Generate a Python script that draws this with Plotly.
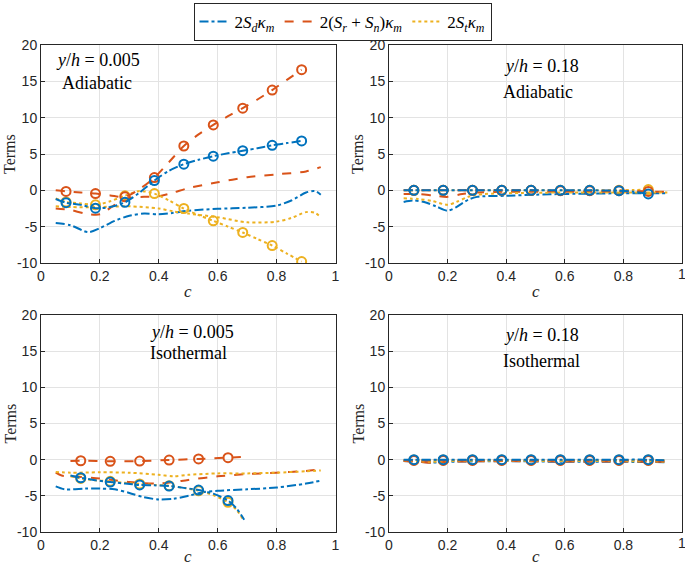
import plotly.graph_objects as go

# ---------------- data ----------------
C_MARK_A = [0.085, 0.185, 0.285, 0.385, 0.485, 0.585, 0.685, 0.785, 0.885]
C_MARK_B = [0.135, 0.235, 0.335, 0.435, 0.535, 0.635]

# Panel 1: y/h = 0.005, adiabatic
p1_sd_m_c = [0.05, 0.085, 0.135, 0.185, 0.235, 0.285, 0.335, 0.385, 0.435, 0.485, 0.535, 0.585, 0.635, 0.685, 0.735, 0.785, 0.835, 0.885]
p1_sd_m_v = [-1.2, -1.7, -2.0, -2.45, -2.3, -1.65, -0.3, 1.35, 2.7, 3.6, 4.2, 4.7, 5.1, 5.45, 5.8, 6.2, 6.5, 6.8]
p1_sr_m_c = p1_sd_m_c
p1_sr_m_v = [0.0, -0.15, -0.3, -0.45, -0.7, -0.9, 0.2, 1.75, 3.9, 6.1, 7.7, 9.0, 10.2, 11.3, 12.5, 13.8, 15.2, 16.6]
p1_st_m_c = p1_sd_m_c
p1_st_m_v = [-1.1, -1.6, -1.8, -2.0, -1.5, -0.75, -0.1, -0.45, -1.4, -2.5, -3.4, -4.2, -5.0, -5.8, -6.7, -7.6, -8.7, -9.8]
p1_sd_c = [0.05, 0.1, 0.16, 0.2, 0.25, 0.3, 0.35, 0.4, 0.45, 0.5, 0.6, 0.7, 0.8, 0.85, 0.9, 0.93, 0.95]
p1_sd_v = [-4.5, -4.8, -5.75, -5.2, -4.2, -3.5, -3.2, -3.3, -3.1, -2.8, -2.55, -2.4, -2.1, -1.4, -0.3, -0.1, -0.6]
p1_sr_c = [0.05, 0.1, 0.15, 0.2, 0.25, 0.3, 0.35, 0.4, 0.45, 0.5, 0.6, 0.7, 0.8, 0.9, 0.95]
p1_sr_v = [-2.5, -2.7, -3.2, -3.3, -2.0, -1.0, -0.9, -0.8, -0.3, 0.3, 1.1, 1.8, 2.2, 2.6, 3.2]
p1_st_c = [0.05, 0.1, 0.2, 0.3, 0.4, 0.45, 0.5, 0.6, 0.7, 0.8, 0.85, 0.9, 0.93, 0.95]
p1_st_v = [-2.2, -2.3, -2.3, -2.2, -2.5, -2.9, -3.2, -3.7, -4.4, -4.3, -3.8, -3.0, -3.1, -3.7]

# Panel 2: y/h = 0.18, adiabatic
p2_m_c = [0.05, 0.085, 0.185, 0.285, 0.385, 0.485, 0.585, 0.685, 0.785, 0.835, 0.885]
p2_sd_m_v = [0.0, 0.0, 0.0, 0.0, 0.0, 0.0, 0.0, 0.0, -0.05, -0.2, -0.5]
p2_sr_m_v = [0.0, 0.0, 0.0, 0.0, 0.0, 0.0, -0.05, -0.05, -0.05, -0.1, -0.15]
p2_st_m_v = [0.0, 0.0, 0.0, 0.0, 0.0, 0.0, 0.0, 0.0, 0.0, 0.05, 0.1]
p2_sd_c = [0.05, 0.08, 0.12, 0.16, 0.2, 0.23, 0.27, 0.3, 0.4, 0.5, 0.6, 0.7, 0.8, 0.9, 0.95]
p2_sd_v = [-1.6, -1.4, -1.6, -2.2, -2.8, -2.3, -1.3, -0.9, -0.75, -0.6, -0.5, -0.45, -0.4, -0.4, -0.4]
p2_sr_c = [0.05, 0.1, 0.15, 0.2, 0.25, 0.3, 0.4, 0.6, 0.8, 0.95]
p2_sr_v = [-0.5, -0.5, -0.7, -0.9, -0.5, -0.3, -0.2, -0.2, -0.2, -0.2]
p2_st_c = [0.05, 0.1, 0.15, 0.2, 0.23, 0.27, 0.3, 0.4, 0.6, 0.8, 0.95]
p2_st_v = [-1.1, -1.2, -1.5, -2.0, -1.6, -0.9, -0.6, -0.4, -0.3, -0.3, -0.3]

# Panel 3: y/h = 0.005, isothermal
p3_sr_m_c = [0.1, 0.135, 0.235, 0.335, 0.435, 0.535, 0.635, 0.7]
p3_sr_m_v = [-0.2, -0.15, -0.23, -0.2, -0.05, 0.1, 0.28, 0.4]
p3_sd_m_c = [0.1, 0.135, 0.185, 0.235, 0.285, 0.335, 0.385, 0.435, 0.485, 0.535, 0.585, 0.635, 0.665, 0.69]
p3_sd_m_v = [-2.2, -2.5, -2.85, -3.1, -3.3, -3.5, -3.55, -3.65, -3.9, -4.2, -4.7, -5.65, -6.8, -8.3]
p3_st_m_c = p3_sd_m_c
p3_st_m_v = [-2.3, -2.6, -2.85, -3.0, -3.2, -3.35, -3.5, -3.6, -3.9, -4.3, -4.9, -5.9, -7.0, -8.5]
p3_sd_c = [0.05, 0.08, 0.15, 0.2, 0.25, 0.3, 0.35, 0.4, 0.45, 0.5, 0.55, 0.6, 0.7, 0.8, 0.9, 0.95]
p3_sd_v = [-3.7, -4.1, -4.0, -4.0, -4.1, -4.6, -5.2, -5.5, -5.4, -5.0, -4.5, -4.3, -4.1, -3.85, -3.3, -2.9]
p3_sr_c = [0.05, 0.07, 0.1, 0.2, 0.3, 0.4, 0.45, 0.5, 0.6, 0.7, 0.8, 0.9, 0.95]
p3_sr_v = [-1.8, -2.2, -2.3, -2.6, -3.1, -3.3, -3.1, -2.8, -2.3, -2.0, -1.8, -1.55, -1.35]
p3_st_c = [0.05, 0.1, 0.2, 0.3, 0.4, 0.45, 0.5, 0.6, 0.7, 0.8, 0.9, 0.95]
p3_st_v = [-1.7, -1.8, -1.75, -1.8, -2.1, -2.3, -2.1, -1.9, -1.9, -1.8, -1.6, -1.5]

# Panel 4: y/h = 0.18, isothermal
p4_m_c = [0.05, 0.085, 0.185, 0.285, 0.385, 0.485, 0.585, 0.685, 0.785, 0.885, 0.95]
p4_sd_m_v = [0.0, 0.0, 0.0, 0.0, 0.0, 0.0, 0.0, 0.0, 0.0, 0.0, -0.1]
p4_sr_m_v = [-0.1, -0.1, -0.1, -0.1, -0.1, -0.1, -0.1, -0.1, -0.1, -0.1, -0.15]
p4_st_m_v = [-0.05, -0.05, -0.05, -0.05, -0.05, -0.05, -0.05, -0.05, -0.05, -0.05, -0.1]
p4_sd_c = [0.05, 0.1, 0.15, 0.2, 0.4, 0.6, 0.8, 0.95]
p4_sd_v = [-0.2, -0.3, -0.4, -0.3, -0.2, -0.3, -0.3, -0.35]
p4_sr_c = [0.05, 0.1, 0.15, 0.2, 0.4, 0.6, 0.8, 0.95]
p4_sr_v = [-0.2, -0.3, -0.45, -0.3, -0.2, -0.25, -0.25, -0.3]
p4_st_c = [0.05, 0.1, 0.15, 0.2, 0.4, 0.6, 0.8, 0.95]
p4_st_v = [-0.1, -0.2, -0.3, -0.2, -0.15, -0.2, -0.2, -0.25]

y_ticks = [-10, -5, 0, 5, 10, 15, 20]
y_tick_labels = ["-10", "-5", "0", "5", "10", "15", "20"]
x_ticks = [0, 0.2, 0.4, 0.6, 0.8, 1]
x_tick_labels = ["0", "0.2", "0.4", "0.6", "0.8", "1"]

series_names = [
    "2<i>S</i><sub><i>d</i></sub><i>κ</i><sub><i>m</i></sub>",
    "2(<i>S</i><sub><i>r</i></sub> + <i>S</i><sub><i>n</i></sub>)<i>κ</i><sub><i>m</i></sub>",
    "2<i>S</i><sub><i>t</i></sub><i>κ</i><sub><i>m</i></sub>",
]
panel_labels = [
    ("<i>y</i>/<i>h</i> = 0.005", "Adiabatic"),
    ("<i>y</i>/<i>h</i> = 0.18", "Adiabatic"),
    ("<i>y</i>/<i>h</i> = 0.005", "Isothermal"),
    ("<i>y</i>/<i>h</i> = 0.18", "Isothermal"),
]

# ---------------- styling ----------------
BLUE, ORANGE, YELLOW = "#0072BD", "#D95319", "#EDB120"
COLORS = [BLUE, ORANGE, YELLOW]
DASHES = ["dashdot", "dash", "dot"]
W, H = 685, 566
SERIF = "Liberation Serif"
SANS = "Liberation Sans"
TICK_COLOR = "#262626"

def px_x(p):
    return p / W

def px_y(p):
    return 1 - p / H

# plot boxes in pixels (left, right, top, bottom)
boxes = [(41, 335.5, 45, 263), (389, 682, 45, 263), (41, 335.5, 315, 532), (389, 682, 315, 532)]
c_label_offset = [28, 28, 24, 24]

fig = go.Figure()

panels = [
    ([(p1_sd_c, p1_sd_v, 0), (p1_sr_c, p1_sr_v, 1), (p1_st_c, p1_st_v, 2)],
     [(p1_st_m_c, p1_st_m_v, 2, C_MARK_A), (p1_sr_m_c, p1_sr_m_v, 1, C_MARK_A), (p1_sd_m_c, p1_sd_m_v, 0, C_MARK_A)]),
    ([(p2_sd_c, p2_sd_v, 0), (p2_sr_c, p2_sr_v, 1), (p2_st_c, p2_st_v, 2)],
     [(p2_m_c, p2_st_m_v, 2, C_MARK_A), (p2_m_c, p2_sr_m_v, 1, C_MARK_A), (p2_m_c, p2_sd_m_v, 0, C_MARK_A)]),
    ([(p3_sd_c, p3_sd_v, 0), (p3_sr_c, p3_sr_v, 1), (p3_st_c, p3_st_v, 2)],
     [(p3_st_m_c, p3_st_m_v, 2, C_MARK_B), (p3_sr_m_c, p3_sr_m_v, 1, C_MARK_B), (p3_sd_m_c, p3_sd_m_v, 0, C_MARK_B)]),
    ([(p4_sd_c, p4_sd_v, 0), (p4_sr_c, p4_sr_v, 1), (p4_st_c, p4_st_v, 2)],
     [(p4_m_c, p4_st_m_v, 2, C_MARK_A), (p4_m_c, p4_sr_m_v, 1, C_MARK_A), (p4_m_c, p4_sd_m_v, 0, C_MARK_A)]),
]

for i, (plain, marked) in enumerate(panels):
    xa = "x" if i == 0 else f"x{i+1}"
    ya = "y" if i == 0 else f"y{i+1}"
    for c, v, s in plain:
        fig.add_trace(go.Scatter(x=c, y=v, mode="lines", xaxis=xa, yaxis=ya,
                                 line=dict(color=COLORS[s], dash=DASHES[s], width=2, shape="spline", smoothing=0.8),
                                 showlegend=False, hoverinfo="skip"))
    for c, v, s, mc in marked:
        fig.add_trace(go.Scatter(x=c, y=v, mode="lines", xaxis=xa, yaxis=ya,
                                 line=dict(color=COLORS[s], dash=DASHES[s], width=2, shape="spline", smoothing=0.8),
                                 showlegend=False, hoverinfo="skip"))
        mx = [x for x in mc if x in c]
        mv = [v[c.index(x)] for x in mx]
        fig.add_trace(go.Scatter(x=mx, y=mv, mode="markers", xaxis=xa, yaxis=ya,
                                 marker=dict(symbol="circle-open", size=9, color=COLORS[s], line=dict(width=2)),
                                 showlegend=False, hoverinfo="skip"))

for s in range(3):
    fig.add_trace(go.Scatter(x=[None], y=[None], mode="lines", name=series_names[s],
                             line=dict(color=COLORS[s], dash=DASHES[s], width=2)))

layout = dict(
    width=W, height=H, margin=dict(l=0, r=0, t=0, b=0, autoexpand=False),
    paper_bgcolor="white", plot_bgcolor="white",
    showlegend=True,
    legend=dict(orientation="h", x=0.5, xanchor="center", y=px_y(3), yanchor="top",
                bordercolor=TICK_COLOR, borderwidth=1, font=dict(family=SERIF, size=17, color="black"),
                itemwidth=30, tracegroupgap=0, bgcolor="white"),
)
annotations = []
for i, (l, r, t, b) in enumerate(boxes):
    sfx = "" if i == 0 else str(i + 1)
    common = dict(showgrid=True, gridcolor="#e3e3e3", gridwidth=1, zeroline=False,
                  showline=True, linecolor=TICK_COLOR, linewidth=1, mirror=True,
                  ticks="inside", ticklen=4, tickcolor=TICK_COLOR, automargin=False,
                  tickfont=dict(family=SANS, size=14, color=TICK_COLOR))
    layout["xaxis" + sfx] = dict(domain=[px_x(l), px_x(r)], range=[0, 1], anchor="y" + sfx,
                                 tickvals=x_ticks, ticktext=x_tick_labels, **common)
    layout["yaxis" + sfx] = dict(domain=[px_y(b), px_y(t)], range=[-10, 20], anchor="x" + sfx,
                                 tickvals=y_ticks, ticktext=y_tick_labels, **common)
    annotations.append(dict(text="<i>c</i>", xref="paper", yref="paper", x=px_x((l + r) / 2),
                            y=px_y(b + c_label_offset[i]), xanchor="center", yanchor="middle",
                            showarrow=False, font=dict(family=SERIF, size=17, color=TICK_COLOR)))
    annotations.append(dict(text="Terms", xref="paper", yref="paper", x=px_x(l - 31), y=px_y((t + b) / 2),
                            xanchor="center", yanchor="middle",
                            textangle=-90, showarrow=False, font=dict(family=SERIF, size=16, color=TICK_COLOR)))
    if i in (1, 3):
        # last x tick label sits on the page edge (partly cut, as in the original)
        annotations.append(dict(text=x_tick_labels[-1], xref="x" + sfx, yref="paper", x=x_ticks[-1],
                                y=px_y(b + 11), xanchor="center", yanchor="middle", showarrow=False,
                                font=dict(family=SANS, size=14, color=TICK_COLOR)))

lab_pos = [
    ((54, 60, "left"), (60, 83, "left")),
    ((541, 66, "center"), (538, 92, "center")),
    ((148, 332, "left"), (148, 353, "left")),
    ((541, 335, "center"), (541, 361, "center")),
]
for i, (a, b) in enumerate(lab_pos):
    for (x, y, al), txt in zip((a, b), panel_labels[i]):
        annotations.append(dict(text=txt, xref="paper", yref="paper", x=px_x(x), y=px_y(y),
                                xanchor=al, yanchor="middle", showarrow=False,
                                font=dict(family=SERIF, size=18, color="black")))
layout["annotations"] = annotations
fig.update_layout(**layout)
fig.write_html("out.html", config={"displayModeBar": False},
               post_script="document.body.style.margin='0';document.body.style.overflow='hidden';")
